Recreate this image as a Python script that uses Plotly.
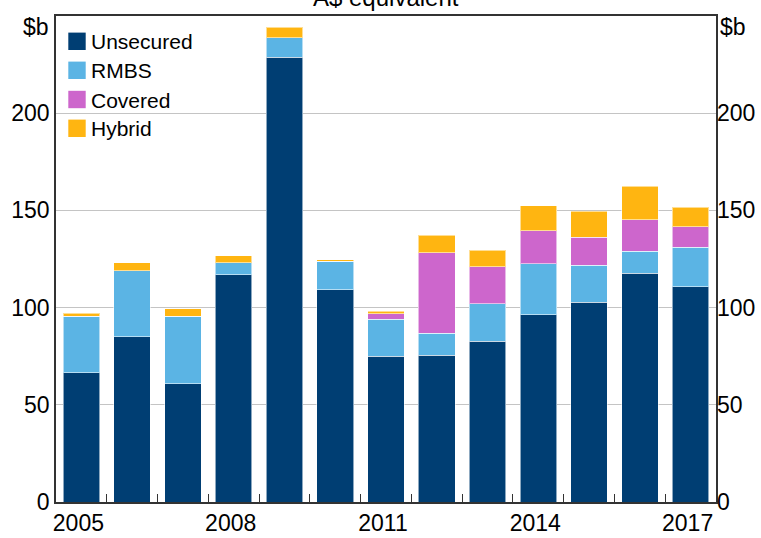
import plotly.graph_objects as go

years = [2005, 2006, 2007, 2008, 2009, 2010, 2011, 2012, 2013, 2014, 2015, 2016, 2017]
unsecured = [66.5, 84.9, 60.9, 116.8, 228.9, 109.2, 74.9, 75.6, 82.8, 96.4, 102.7, 117.6, 110.6]
rmbs = [29.0, 34.1, 34.6, 6.3, 9.8, 14.7, 19.2, 11.3, 19.2, 26.2, 19.0, 11.5, 20.5]
covered = [0, 0, 0, 0, 0, 0, 2.8, 41.3, 19.0, 16.9, 14.4, 16.2, 10.6]
hybrid = [1.5, 4.2, 3.8, 3.6, 5.6, 0.7, 1.1, 9.1, 8.6, 12.9, 13.5, 17.0, 9.8]

series_names = ["Unsecured", "RMBS", "Covered", "Hybrid"]
series_vals = [unsecured, rmbs, covered, hybrid]
colors = ["#003E73", "#5BB4E4", "#CD66CC", "#FFB511"]

y_ticks = [0, 50, 100, 150, 200]
x_label_years = [2005, 2008, 2011, 2014, 2017]
boundaries = [y + 0.5 for y in years[:-1]]

FONT = "Liberation Sans, Arial, sans-serif"

fig = go.Figure()
for name, vals, col in zip(series_names, series_vals, colors):
    fig.add_trace(go.Bar(
        x=years, y=vals, name=name, marker_color=col,
        marker_line=dict(color="rgba(255,255,255,0.55)", width=1),
        width=0.72, showlegend=False,
    ))

# invisible helpers for secondary axes
fig.add_trace(go.Scatter(x=[2005], y=[None], xaxis="x", yaxis="y2", showlegend=False, hoverinfo="skip"))
fig.add_trace(go.Scatter(x=[2005], y=[None], xaxis="x2", yaxis="y", showlegend=False, hoverinfo="skip"))

L, R, T, B = 56, 45, 16, 36
W, H = 761, 538
pw, ph = W - L - R, H - T - B

def px_x(px):
    return (px - L) / pw

def px_y(py):
    return (H - B - py) / ph

shapes = []
annotations = []
rows = [41.3, 70.3, 99.5, 128.3]
for name, col, cy in zip(series_names, colors, rows):
    shapes.append(dict(type="rect", xref="paper", yref="paper",
                       x0=px_x(68.3), x1=px_x(85.7),
                       y0=px_y(cy + 8.7), y1=px_y(cy - 8.7),
                       fillcolor=col, line=dict(width=0)))
    annotations.append(dict(text=name, xref="paper", yref="paper",
                            x=px_x(89), y=px_y(cy + 0.5), xanchor="left", yanchor="middle",
                            showarrow=False, font=dict(family=FONT, size=21, color="#000")))

annotations.append(dict(text="$b", xref="paper", yref="paper", x=px_x(51), y=px_y(27),
                        xanchor="right", yanchor="middle", showarrow=False,
                        font=dict(family=FONT, size=23, color="#000")))
annotations.append(dict(text="$b", xref="paper", yref="paper", x=px_x(718), y=px_y(27),
                        xanchor="left", yanchor="middle", showarrow=False,
                        font=dict(family=FONT, size=23, color="#000")))
annotations.append(dict(text="A$ equivalent", xref="paper", yref="paper", x=0.5, y=px_y(13),
                        xanchor="center", yanchor="bottom", showarrow=False,
                        font=dict(family=FONT, size=24, color="#000")))

axis_font = dict(family=FONT, size=23, color="#000")
fig.update_layout(
    width=W, height=H,
    margin=dict(l=L, r=R, t=T, b=B, pad=0),
    paper_bgcolor="white", plot_bgcolor="white",
    barmode="stack", bargap=0.28,
    shapes=shapes, annotations=annotations,
    xaxis=dict(range=[2004.5, 2017.5], tickvals=x_label_years,
               ticktext=[str(v) for v in x_label_years], ticks="",
               showgrid=False, zeroline=False, showline=True, linecolor="#333",
               linewidth=1.5, mirror=True, tickfont=axis_font, automargin=False,
               ticklabelshift=-3),
    xaxis2=dict(range=[2004.5, 2017.5], overlaying="x", anchor="y", side="bottom",
                tickvals=boundaries, ticks="inside", ticklen=8, tickwidth=1.2,
                tickcolor="#333", showticklabels=False, showgrid=False,
                zeroline=False, showline=False, automargin=False),
    yaxis=dict(range=[0, 250], tickvals=y_ticks, ticks="", showgrid=True,
               gridcolor="#C4C4C4", gridwidth=1, zeroline=False, showline=True,
               linecolor="#333", linewidth=1.5, mirror=True, tickfont=axis_font, automargin=False),
    yaxis2=dict(range=[0, 250], tickvals=y_ticks, overlaying="y", anchor="x", side="right",
                ticks="", showgrid=False, zeroline=False, showline=False, tickfont=axis_font,
                automargin=False),
    showlegend=False,
)

post = ("var s=document.createElement('style');"
        "s.innerHTML='html,body{margin:0;padding:0;overflow:hidden;width:761px;height:538px;}';"
        "document.head.appendChild(s);")
fig.write_html("out.html", post_script=post, config={"displayModeBar": False})
